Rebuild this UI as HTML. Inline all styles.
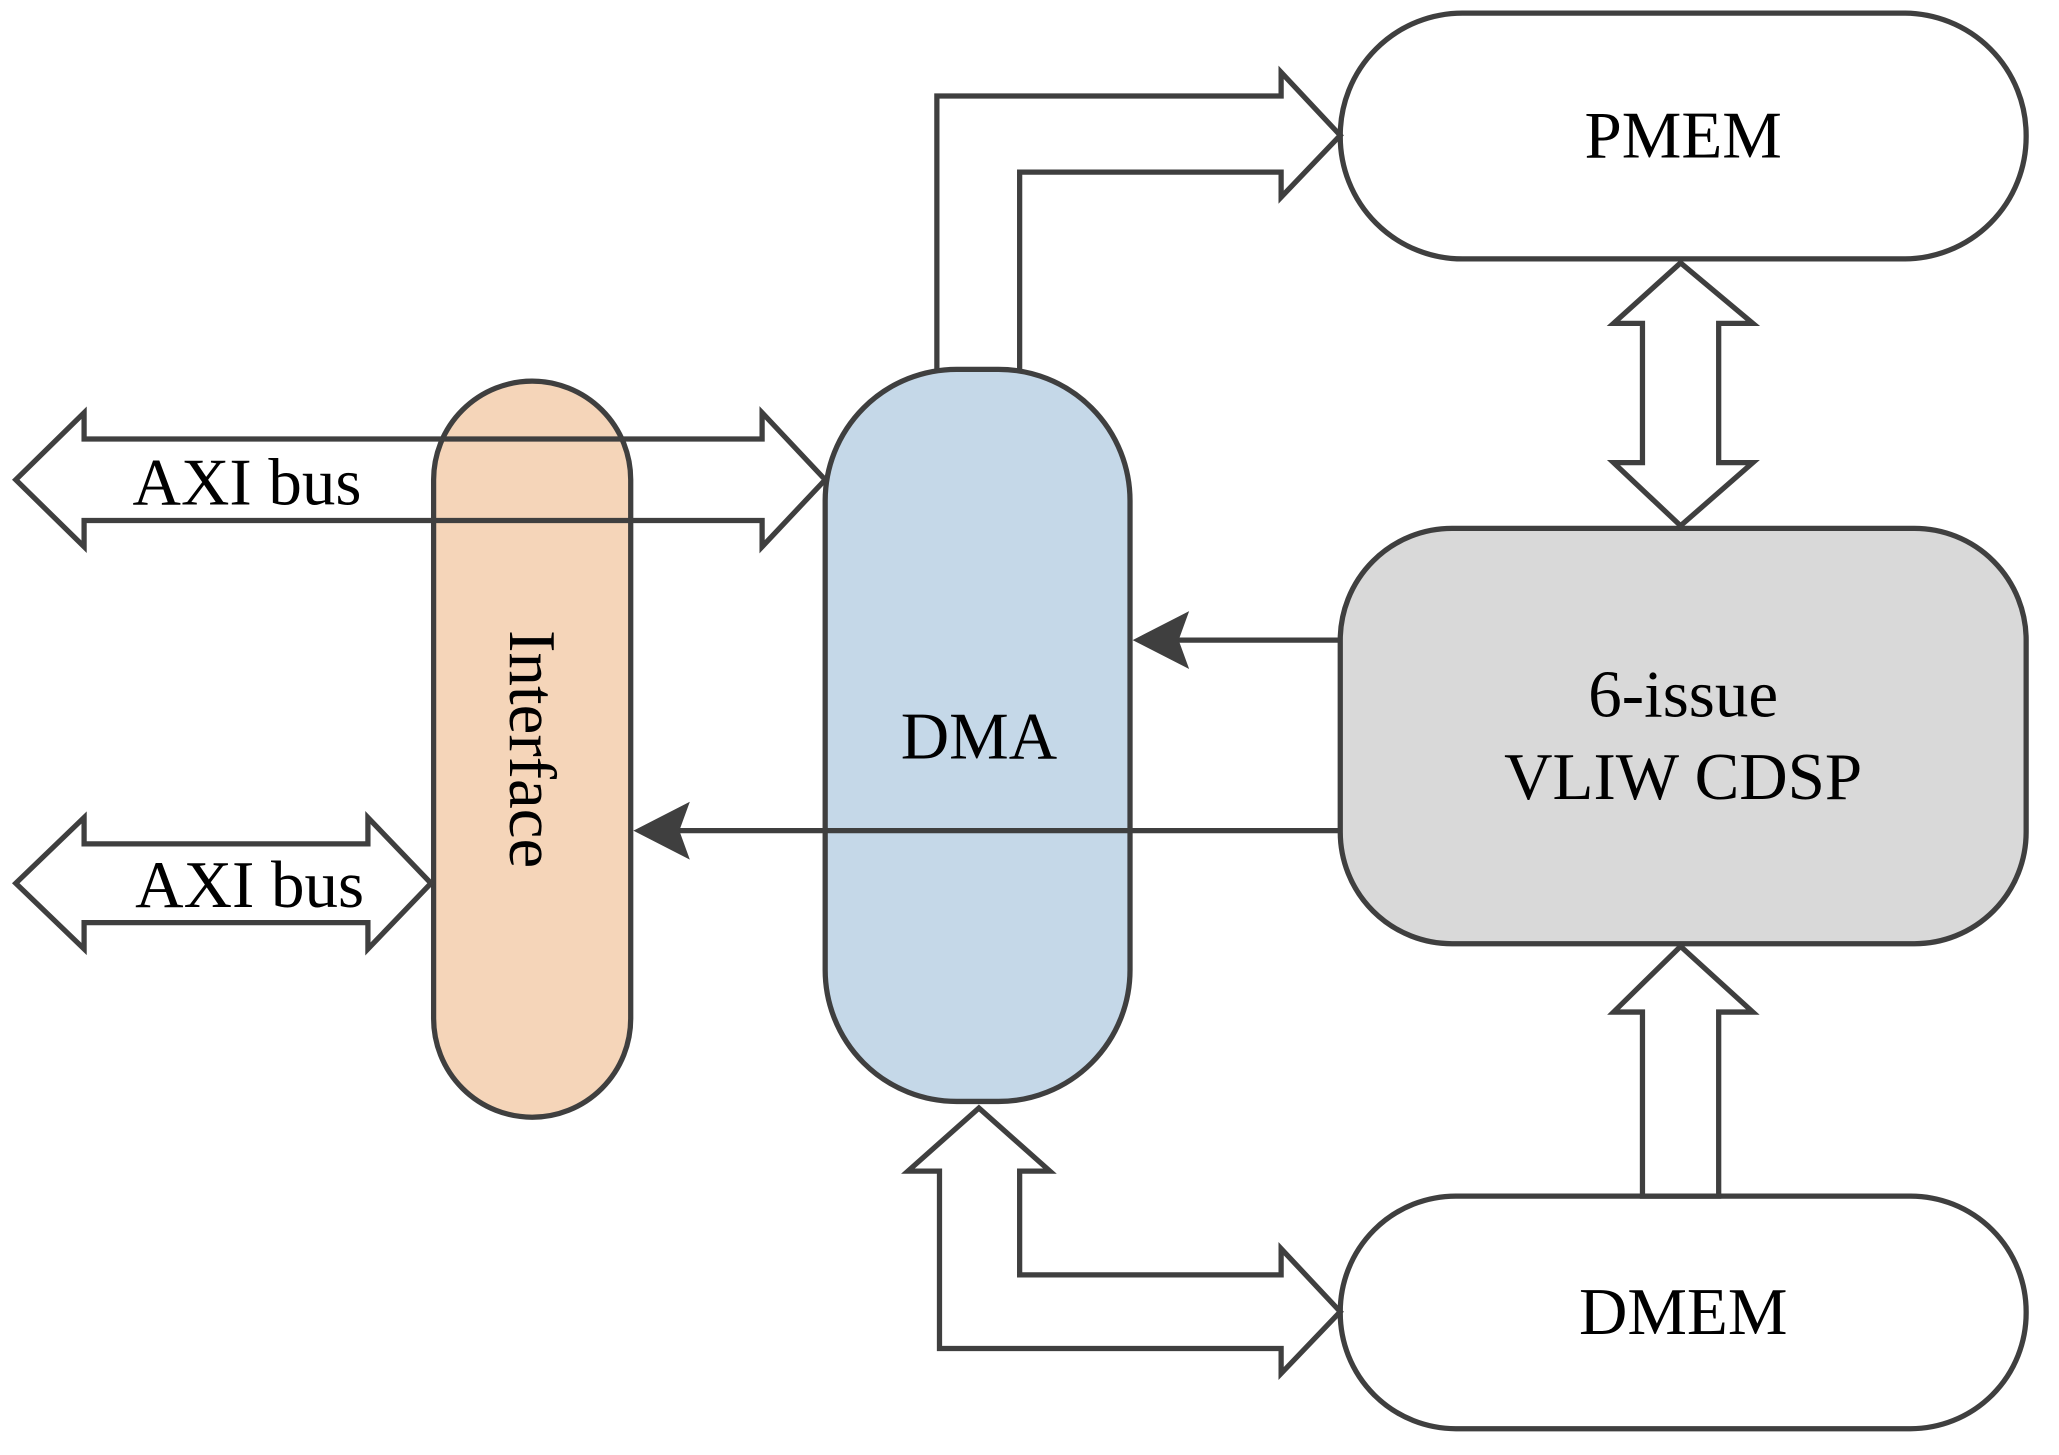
<!DOCTYPE html>
<html><head><style>html,body{margin:0;padding:0;background:#fff}svg{display:block}</style></head>
<body>
<svg width="2059" height="1455" viewBox="0 0 1567 1107" preserveAspectRatio="none" xmlns="http://www.w3.org/2000/svg">
<g stroke="#3f3f3f" stroke-width="4" stroke-linejoin="miter">
<rect x="1020" y="10" width="522" height="187" rx="93" fill="#fff"/>
<rect x="1020" y="402" width="522" height="316" rx="85" fill="#d9d9d9"/>
<rect x="1020" y="910" width="522" height="177" rx="88" fill="#fff"/>
<rect x="330" y="290" width="150" height="560" rx="75" fill="#f5d5b9"/>
<rect x="628" y="281" width="232" height="557" rx="100" fill="#c5d8e8"/>
<polygon fill="#fff" points="1279,200 1334,246 1308,246 1308,352 1334,352 1279,400 1228,352 1250,352 1250,246 1228,246"/>
<polygon fill="#fff" points="1279,720 1334,770 1308,770 1308,910 1250,910 1250,770 1228,770"/>
<polyline fill="none" points="713,281 713,73 975,73 975,55 1020,103 975,150 975,131 776,131 776,281"/>
<polygon fill="none" points="715,1026 975,1026 975,1045 1020,998 975,950 975,970 776,970 776,891 799,891 745,843 691,891 715,891"/>
<polygon fill="none" points="12,365 64,314 64,334 580,334 580,314 628,365 580,416 580,396 64,396 64,416"/>
<polygon fill="#fff" points="12,672 64,622 64,642 280,642 280,622 328,672 280,722 280,702 64,702 64,722"/>
<line x1="1020" y1="487" x2="895" y2="487"/>
<line x1="1020" y1="632" x2="515" y2="632"/>
</g>
<polygon fill="#3f3f3f" points="862,487 905,465 897,487 905,509"/>
<polygon fill="#3f3f3f" points="482,632 525,610 517,632 525,654"/>
<g font-family="Liberation Serif, serif" font-size="51" fill="#000" text-anchor="middle">
<text x="1281" y="120">PMEM</text>
<text x="1281" y="1015">DMEM</text>
<text x="745" y="577">DMA</text>
<text x="1281" y="545">6-issue</text>
<text x="1281" y="608">VLIW CDSP</text>
<text x="188" y="384">AXI bus</text>
<text x="190" y="690">AXI bus</text>
<text x="0" y="0" transform="translate(388,570) rotate(90)">Interface</text>
</g>
</svg>
</body></html>
